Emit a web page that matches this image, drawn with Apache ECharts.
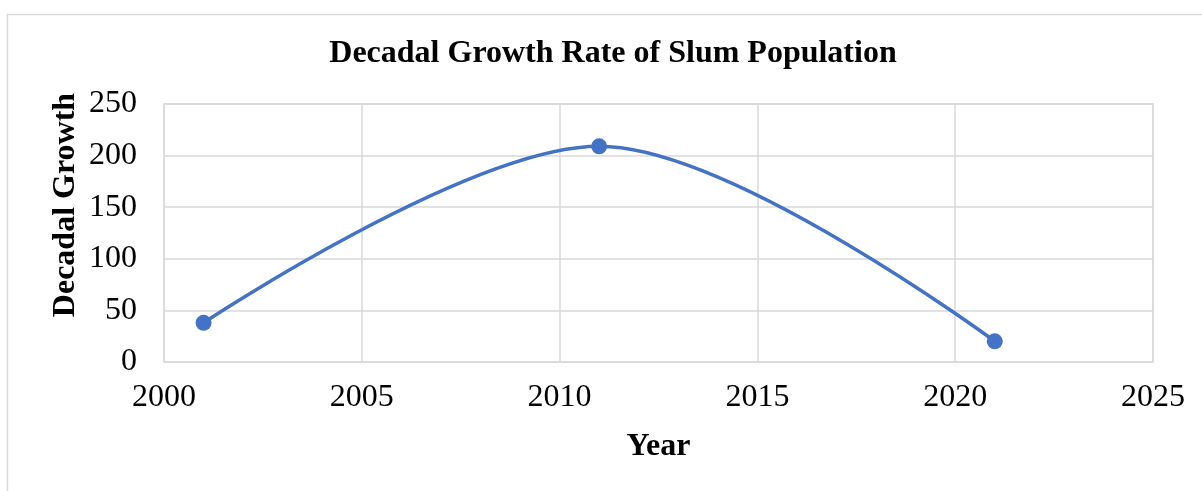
<!DOCTYPE html>
<html>
<head>
<meta charset="utf-8">
<title>Decadal Growth Rate of Slum Population</title>
<script src="https://cdn.jsdelivr.net/npm/echarts@6/dist/echarts.min.js"></script>
<style>
  html, body { margin: 0; padding: 0; background: #ffffff; }
  #chart { width: 1202px; height: 491px; }
</style>
</head>
<body>
<div id="chart"></div>
<script>
// Census years and decadal growth of slum population (%)
const years = [2001, 2011, 2021];
const growth = [38, 209, 20];

// Axis ranges and tick spacing
const xMin = 2000, xMax = 2025, xStep = 5;
const yMin = 0, yMax = 250, yStep = 50;

const titleText = 'Decadal Growth Rate of Slum Population';
const xName = 'Year';
const yName = 'Decadal Growth';

const serif = '"Liberation Serif", "Times New Roman", serif';
const gridColor = '#d9d9d9';
const lineColor = '#4472c4';

const chart = echarts.init(document.getElementById('chart'));

chart.setOption({
  backgroundColor: '#ffffff',
  animation: false,
  title: {
    text: titleText,
    left: 608,
    top: 33,
    textAlign: 'center',
    textStyle: { fontFamily: serif, fontWeight: 'bold', fontSize: 32, color: '#000000' }
  },
  grid: { left: 164, right: 49, top: 104, bottom: 129, show: true, borderColor: gridColor, borderWidth: 1.5 },
  xAxis: {
    type: 'value',
    min: xMin,
    max: xMax,
    interval: xStep,
    name: xName,
    nameLocation: 'middle',
    nameGap: 69,
    nameTextStyle: { fontFamily: serif, fontWeight: 'bold', fontSize: 32, color: '#000000' },
    axisLine: { show: false },
    axisTick: { show: false },
    axisLabel: {
      fontFamily: serif, fontSize: 32, color: '#000000', margin: 20,
      formatter: (v) => String(v)
    },
    splitLine: { show: true, lineStyle: { color: gridColor, width: 1.5 } }
  },
  yAxis: {
    type: 'value',
    min: yMin,
    max: yMax,
    interval: yStep,
    axisLine: { show: false },
    axisTick: { show: false },
    axisLabel: { fontFamily: serif, fontSize: 32, color: '#000000', margin: 27 },
    splitLine: { show: true, lineStyle: { color: gridColor, width: 1.5 } }
  },
  graphic: [
    {
      type: 'rect',
      left: 5,
      top: 12,
      shape: { width: 1250, height: 520 },
      style: { fill: 'none', stroke: gridColor, lineWidth: 1.5 },
      silent: true
    },
    {
      type: 'text',
      x: 66,
      y: 205,
      rotation: Math.PI / 2,
      style: {
        text: yName,
        font: 'bold 32px ' + serif,
        fill: '#000000',
        align: 'center',
        verticalAlign: 'middle'
      }
    }
  ],
  series: [
    {
      type: 'line',
      data: years.map((y, i) => [y, growth[i]]),
      smooth: 0.33,
      symbol: 'circle',
      symbolSize: 16,
      lineStyle: { color: lineColor, width: 3.5 },
      itemStyle: { color: lineColor }
    }
  ]
});
</script>
</body>
</html>
